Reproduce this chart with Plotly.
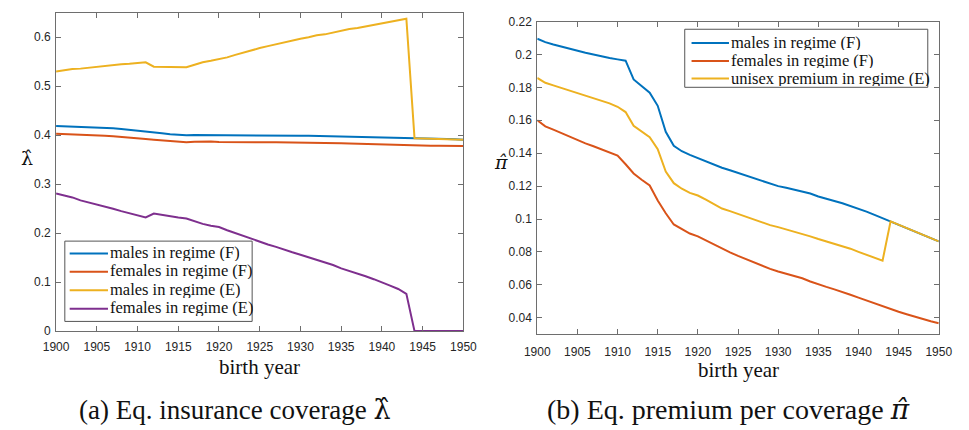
import plotly.graph_objects as go

# ---- data -------------------------------------------------------------
years = list(range(1900, 1951))

# (a) equilibrium insurance coverage
cov_m_F = [0.419, 0.4185, 0.418, 0.4175, 0.4168, 0.416, 0.415, 0.414, 0.4125, 0.411,
           0.409, 0.407, 0.4055, 0.404, 0.402, 0.4005, 0.400, 0.4005, 0.4005, 0.4003,
           0.400, 0.400, 0.400, 0.400, 0.3998, 0.3997, 0.3997, 0.3997, 0.3995, 0.3993,
           0.399, 0.3988, 0.3985, 0.398, 0.3978, 0.3975, 0.397, 0.3965, 0.396, 0.3955,
           0.395, 0.3948, 0.3945, 0.394, 0.394, 0.3935, 0.393, 0.3928, 0.3925, 0.392,
           0.391]
cov_f_F = [0.403, 0.4025, 0.402, 0.4015, 0.401, 0.400, 0.399, 0.398, 0.397, 0.3958,
           0.394, 0.3925, 0.391, 0.3895, 0.388, 0.386, 0.3855, 0.3865, 0.387, 0.387,
           0.386, 0.3862, 0.386, 0.386, 0.3858, 0.3858, 0.3856, 0.3856, 0.3855, 0.3853,
           0.385, 0.3848, 0.3845, 0.384, 0.3838, 0.3835, 0.383, 0.3825, 0.3815, 0.381,
           0.3805, 0.3803, 0.380, 0.3798, 0.3795, 0.379, 0.3787, 0.3785, 0.378, 0.378,
           0.3778]
cov_m_E = [0.530, 0.533, 0.535, 0.536, 0.538, 0.540, 0.5415, 0.543, 0.545, 0.546,
           0.547, 0.549, 0.540, 0.5395, 0.539, 0.538, 0.539, 0.544, 0.549, 0.552,
           0.555, 0.559, 0.564, 0.569, 0.573, 0.578, 0.582, 0.586, 0.590, 0.594,
           0.597, 0.600, 0.604, 0.606, 0.610, 0.614, 0.617, 0.619, 0.622, 0.625,
           0.629, 0.632, 0.635, 0.638, 0.394, 0.3935, 0.393, 0.3928, 0.3925, 0.392,
           0.391]
cov_f_E = [0.281, 0.277, 0.273, 0.267, 0.263, 0.259, 0.255, 0.250, 0.245, 0.241,
           0.236, 0.232, 0.240, 0.237, 0.234, 0.232, 0.230, 0.224, 0.219, 0.215,
           0.2125, 0.206, 0.200, 0.194, 0.188, 0.182, 0.177, 0.172, 0.166, 0.161,
           0.156, 0.151, 0.146, 0.141, 0.135, 0.128, 0.123, 0.117, 0.112, 0.106,
           0.100, 0.093, 0.086, 0.076, 0.0, 0.0, 0.0, 0.0, 0.0, 0.0,
           0.0]

# (b) equilibrium premium per coverage
prem_m_F = [0.2095, 0.2075, 0.206, 0.2047, 0.2035, 0.2022, 0.201, 0.200, 0.1988, 0.1978,
            0.197, 0.1962, 0.1848, 0.181, 0.1768, 0.1688, 0.153, 0.1445, 0.1412, 0.139,
            0.137, 0.135, 0.1332, 0.1312, 0.1296, 0.128, 0.1263, 0.125, 0.1233, 0.1215,
            0.120, 0.119, 0.1178, 0.117, 0.1155, 0.1137, 0.1125, 0.111, 0.1096, 0.108,
            0.1065, 0.1045, 0.1025, 0.1005, 0.0986, 0.0966, 0.0946, 0.0925, 0.0905, 0.0885,
            0.0864]
prem_f_F = [0.160, 0.1563, 0.1543, 0.1522, 0.150, 0.1478, 0.146, 0.1442, 0.1424, 0.1405,
            0.1386, 0.1333, 0.1277, 0.1239, 0.1204, 0.1113, 0.1035, 0.0967, 0.0938, 0.0912,
            0.0895, 0.087, 0.0845, 0.0821, 0.0798, 0.0776, 0.0755, 0.0735, 0.0714, 0.0697,
            0.0681, 0.0667, 0.0653, 0.064, 0.0621, 0.0603, 0.0588, 0.0573, 0.0558, 0.054,
            0.0523, 0.0505, 0.0488, 0.047, 0.0453, 0.0437, 0.0422, 0.0407, 0.0392, 0.0379,
            0.0367]
prem_uni_E = [0.1857, 0.1828, 0.1812, 0.1797, 0.1782, 0.1767, 0.1752, 0.1737, 0.1722, 0.1703,
              0.1682, 0.165, 0.1567, 0.1533, 0.1497, 0.1425, 0.1288, 0.1218, 0.1184, 0.1159,
              0.1143, 0.1118, 0.109, 0.1064, 0.1048, 0.1031, 0.1015, 0.0998, 0.0981, 0.0963,
              0.0951, 0.0938, 0.0925, 0.0912, 0.0895, 0.0879, 0.0865, 0.0851, 0.0836, 0.082,
              0.0801, 0.0784, 0.0765, 0.0747, 0.0986, 0.0966, 0.0946, 0.0925, 0.0905, 0.0885,
              0.0864]

x_ticks = list(range(1900, 1951, 5))
ya_ticks = [0, 0.1, 0.2, 0.3, 0.4, 0.5, 0.6]
ya_labels = ["0", "0.1", "0.2", "0.3", "0.4", "0.5", "0.6"]
yb_ticks = [0.04, 0.06, 0.08, 0.10, 0.12, 0.14, 0.16, 0.18, 0.20, 0.22]
yb_labels = ["0.04", "0.06", "0.08", "0.1", "0.12", "0.14", "0.16", "0.18", "0.2", "0.22"]

names_a = ["males in regime (F)", "females in regime (F)",
           "males in regime (E)", "females in regime (E)"]
names_b = ["males in regime (F)", "females in regime (F)",
           "unisex premium in regime (E)"]

# ---- styling ----------------------------------------------------------
W, H = 969, 430
COLORS = ["#0072BD", "#D95319", "#EDB120", "#7E2F8E"]
SERIF = "Liberation Serif, Times New Roman, serif"
SANS = "Liberation Sans, Arial, sans-serif"
HAT_FONT = "DejaVu Serif"
AXIS_COL = "#6e6e6e"
TICK_COL = "#262626"
TEXT_COL = "#111111"


def px(x):
    return x / W


def py(y):
    return 1 - y / H


def hat(ch, italic=False):
    s = '<span style="font-family:%s">%s\u0302</span>' % (HAT_FONT, ch)
    return "<i>%s</i>" % s if italic else s


fig = go.Figure()

for vals, name, col in zip([cov_m_F, cov_f_F, cov_m_E, cov_f_E], names_a, COLORS):
    fig.add_trace(go.Scatter(x=years, y=vals, mode="lines", name=name,
                             line=dict(color=col, width=2),
                             xaxis="x", yaxis="y", showlegend=False))

for vals, name, col in zip([prem_m_F, prem_f_F, prem_uni_E], names_b, COLORS):
    fig.add_trace(go.Scatter(x=years, y=vals, mode="lines", name=name,
                             line=dict(color=col, width=2),
                             xaxis="x2", yaxis="y2", showlegend=False))

axis_common = dict(showline=True, linecolor=AXIS_COL, linewidth=1, mirror="ticks",
                   ticks="inside", ticklen=5, tickcolor=AXIS_COL, tickwidth=1,
                   showgrid=False, zeroline=False,
                   tickfont=dict(family=SANS, size=12, color=TICK_COL))

fig.update_layout(
    width=W, height=H,
    margin=dict(l=0, r=0, t=0, b=0),
    paper_bgcolor="white", plot_bgcolor="white",
    showlegend=False,
    xaxis=dict(domain=[px(44.3), px(463.3)], range=[1900, 1950],
               tickvals=x_ticks, anchor="y", ticklabelstandoff=5, **axis_common),
    yaxis=dict(domain=[py(335), py(6)], range=[0, 0.65],
               tickvals=ya_ticks, ticktext=ya_labels, anchor="x",
               ticklabelstandoff=2, **axis_common),
    xaxis2=dict(domain=[px(539.3), px(952.3)], range=[1900, 1950],
                tickvals=x_ticks, anchor="y2", ticklabelstandoff=6, **axis_common),
    yaxis2=dict(domain=[py(338.3), py(15)], range=[0.03, 0.22],
                tickvals=yb_ticks, ticktext=yb_labels, anchor="x2",
                ticklabelstandoff=2, **axis_common),
)

shapes = []
annotations = []


def add_legend(names, colors, box, line_x, text_x, row_y, size, row_h):
    x0, y0, x1, y1 = box
    shapes.append(dict(type="rect", xref="paper", yref="paper",
                       x0=px(x0), x1=px(x1), y0=py(y1), y1=py(y0),
                       line=dict(color="#555555", width=1), fillcolor="white",
                       layer="above"))
    for name, col, yy in zip(names, colors, row_y):
        shapes.append(dict(type="line", xref="paper", yref="paper",
                           x0=px(line_x[0]), x1=px(line_x[1]), y0=py(yy), y1=py(yy),
                           line=dict(color=col, width=2), layer="above"))
        annotations.append(dict(x=px(text_x), y=py(yy - 1), text=name,
                                xanchor="left", yanchor="middle", height=row_h,
                                valign="middle", borderpad=0,
                                font=dict(family=SERIF, size=size)))


add_legend(names_a, COLORS, (53.3, 242, 246, 325), (58.3, 97.7), 99,
           [254.7, 273.7, 292.7, 312], 16.5, 17)
add_legend(names_b, COLORS, (691, 23, 941, 83), (698, 736.5), 737.5,
           [37.3, 55.7, 74], 16.5, 16)

annotations += [
    # axis titles
    dict(x=px(253.8), y=py(372.5), text="birth year", font=dict(family=SERIF, size=21)),
    dict(x=px(745.8), y=py(375), text="birth year", font=dict(family=SERIF, size=21)),
    dict(x=px(14), y=py(155.6), text=hat("\u03bb"), font=dict(family=SERIF, size=19)),
    dict(x=px(502), y=py(160.6), text=hat("\u03c0", italic=True), font=dict(family=SERIF, size=19)),
    # panel captions
    dict(x=px(228), y=py(416.5), text="(a) Eq. insurance coverage " + hat("\u03bb"),
         font=dict(family=SERIF, size=27)),
    dict(x=px(736), y=py(416.5), text="(b) Eq. premium per coverage " + hat("\u03c0", italic=True),
         font=dict(family=SERIF, size=28)),
]
for a in annotations:
    a.setdefault("xanchor", "center")
    a.setdefault("yanchor", "middle")
    a.update(xref="paper", yref="paper", showarrow=False)
    a["font"]["color"] = TEXT_COL

fig.update_layout(shapes=shapes, annotations=annotations)

fig.write_html("out.html")
